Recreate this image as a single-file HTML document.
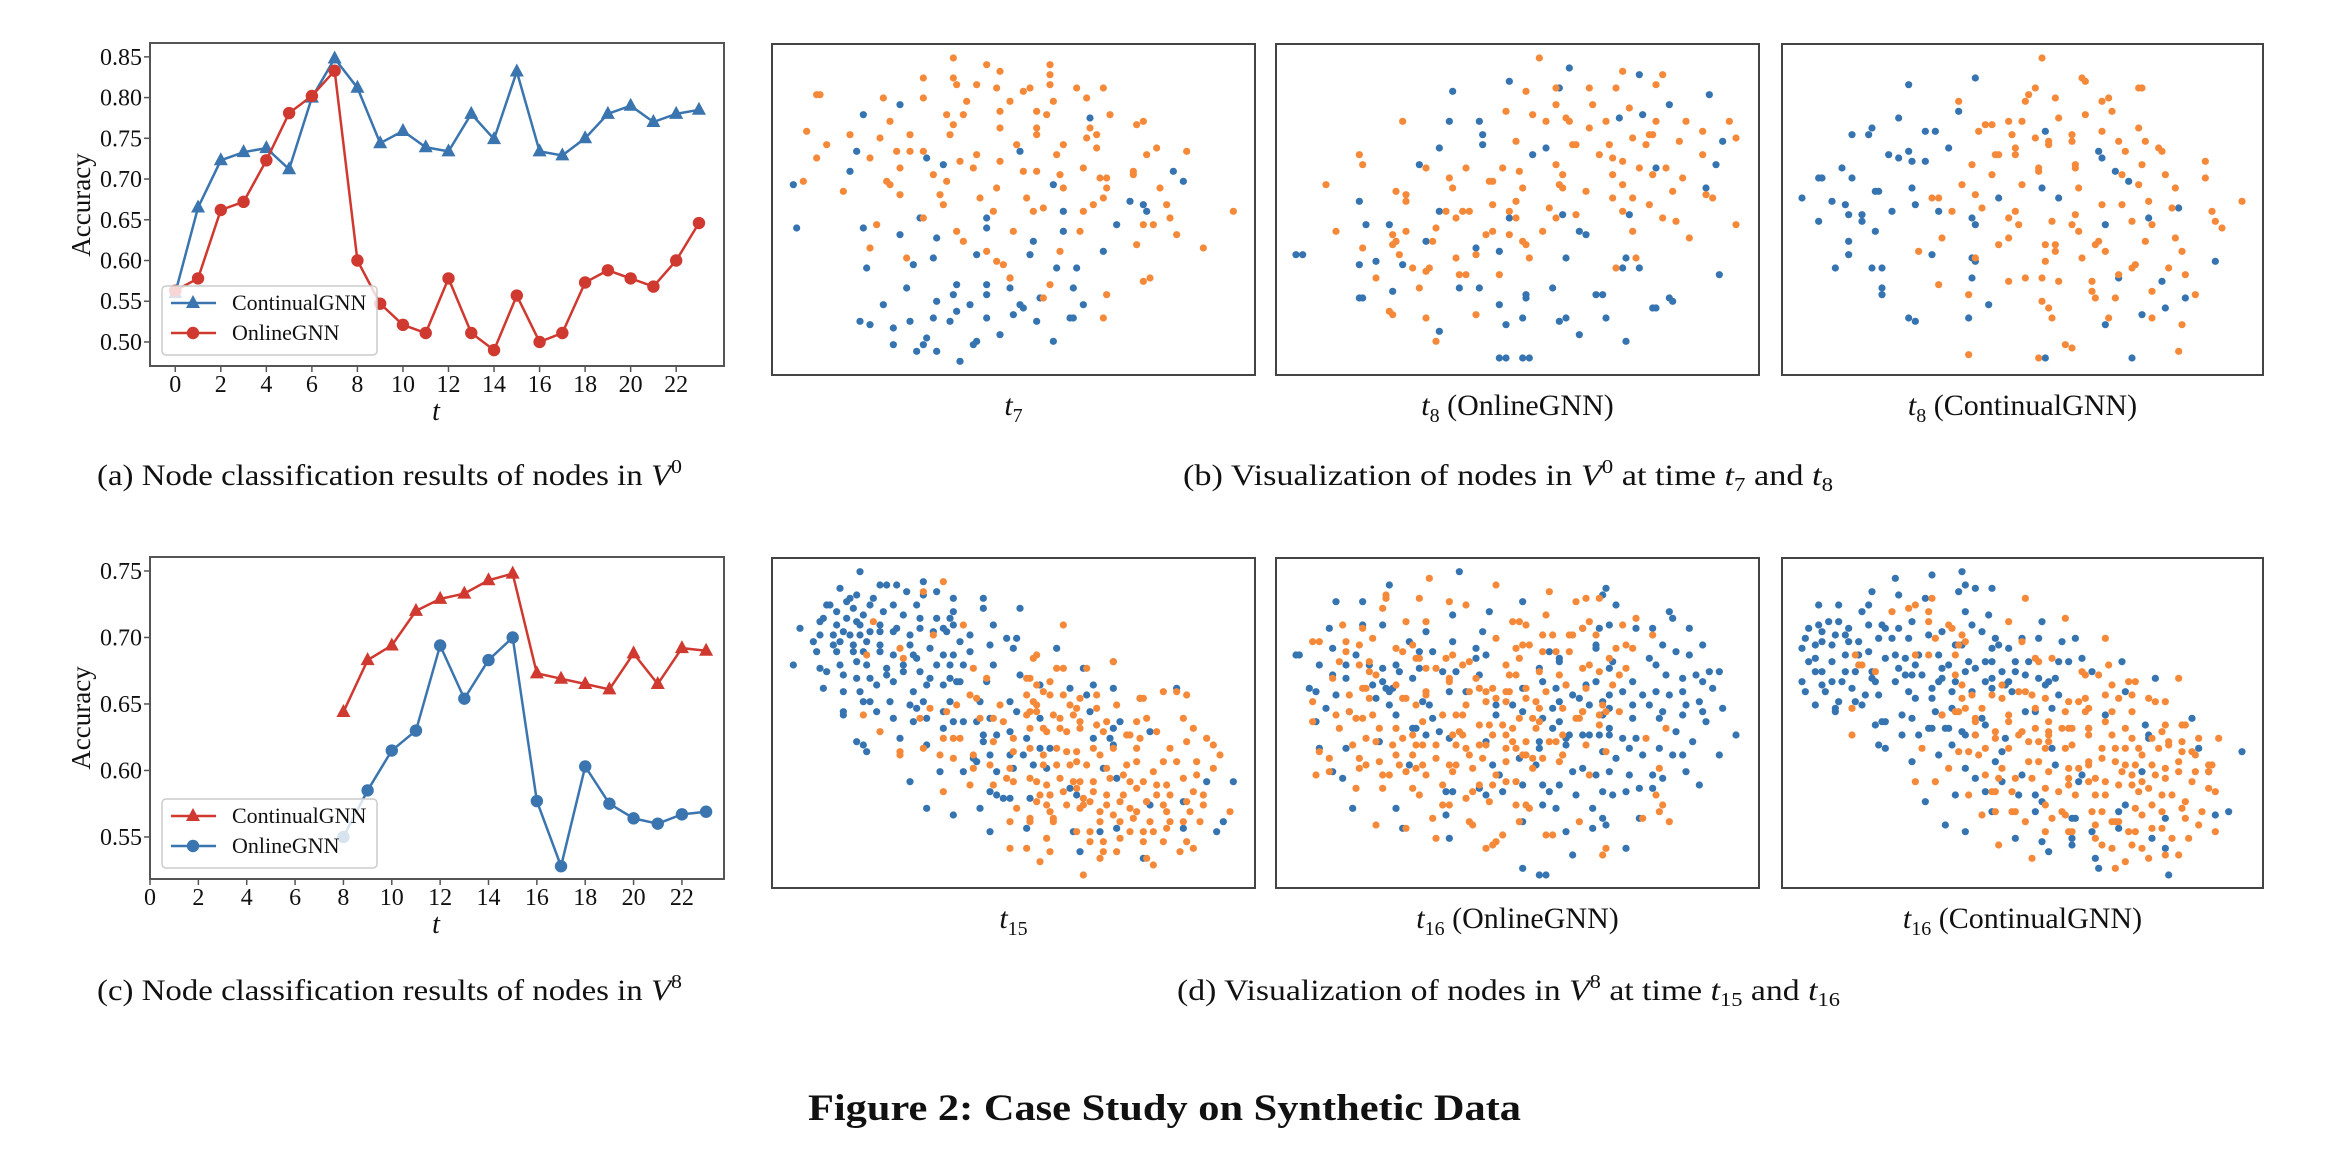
<!DOCTYPE html>
<html><head><meta charset="utf-8"><style>
html,body{margin:0;padding:0;background:#fff}
svg{display:block}
text{font-family:"Liberation Serif","DejaVu Serif",serif;fill:#111}
</style></head><body>
<svg id="fig" width="2334" height="1168" viewBox="0 0 2334 1168" xmlns="http://www.w3.org/2000/svg">
<g id="chartA"></g>
<g id="chartC"></g>
<g id="scatters"></g>
<text x="97" y="485" font-size="30" textLength="585" lengthAdjust="spacingAndGlyphs">(a)  Node classification results of nodes in <tspan font-style="italic">V</tspan><tspan font-size="20" dy="-12">0</tspan></text>
<text x="97" y="1000" font-size="30" textLength="585" lengthAdjust="spacingAndGlyphs">(c)  Node classification results of nodes in <tspan font-style="italic">V</tspan><tspan font-size="20" dy="-12">8</tspan></text>
<text x="1183" y="485" font-size="30" textLength="650" lengthAdjust="spacingAndGlyphs">(b)  Visualization of nodes in <tspan font-style="italic">V</tspan><tspan font-size="20" dy="-12">0</tspan><tspan dy="12"> at time </tspan><tspan font-style="italic">t</tspan><tspan font-size="20" dy="6">7</tspan><tspan dy="-6"> and </tspan><tspan font-style="italic">t</tspan><tspan font-size="20" dy="6">8</tspan></text>
<text x="1177" y="1000" font-size="30" textLength="663" lengthAdjust="spacingAndGlyphs">(d)  Visualization of nodes in <tspan font-style="italic">V</tspan><tspan font-size="20" dy="-12">8</tspan><tspan dy="12"> at time </tspan><tspan font-style="italic">t</tspan><tspan font-size="20" dy="6">15</tspan><tspan dy="-6"> and </tspan><tspan font-style="italic">t</tspan><tspan font-size="20" dy="6">16</tspan></text>
<text x="808" y="1120" font-size="37" font-weight="bold" textLength="713" lengthAdjust="spacingAndGlyphs">Figure 2: Case Study on Synthetic Data</text>
</svg>
<script>
const NS="http://www.w3.org/2000/svg";
// ---- chart (a) data ----
const tA=[0,1,2,3,4,5,6,7,8,9,10,11,12,13,14,15,16,17,18,19,20,21,22,23];
const contA=[0.56,0.665,0.723,0.733,0.738,0.712,0.80,0.848,0.812,0.744,0.759,0.739,0.734,0.78,0.749,0.832,0.734,0.729,0.75,0.78,0.79,0.77,0.78,0.785];
const onlA=[0.563,0.578,0.662,0.672,0.723,0.781,0.802,0.833,0.60,0.547,0.521,0.511,0.578,0.511,0.49,0.557,0.50,0.511,0.573,0.588,0.578,0.568,0.60,0.646];
const yTicksA=[0.50,0.55,0.60,0.65,0.70,0.75,0.80,0.85];
const xTicks=[0,2,4,6,8,10,12,14,16,18,20,22];
// ---- chart (c) data ----
const tC=[8,9,10,11,12,13,14,15,16,17,18,19,20,21,22,23];
const contC=[0.644,0.683,0.694,0.720,0.729,0.733,0.743,0.748,0.673,0.669,0.665,0.661,0.688,0.665,0.692,0.690];
const onlC=[0.55,0.585,0.615,0.630,0.694,0.654,0.683,0.700,0.577,0.528,0.603,0.575,0.564,0.560,0.567,0.569];
const yTicksC=[0.55,0.60,0.65,0.70,0.75];

const BLUE="#3b75af",RED="#d0392f",SB="#3574b0",SO="#f5893a";
function el(tag,attrs,parent){const e=document.createElementNS(NS,tag);for(const k in attrs)e.setAttribute(k,attrs[k]);if(parent)parent.appendChild(e);return e;}
function lin(d0,d1,r0,r1){return v=>r0+(v-d0)*(r1-r0)/(d1-d0);}
function fmt(v){return v.toFixed(2);}

function drawLine(g,xs,ys,X,Y,color,marker,name){
  const pts=xs.map((t,i)=>X(t)+","+Y(ys[i])).join(" ");
  const pl=el("polyline",{points:pts,fill:"none",stroke:color,"stroke-width":2.5},g);
  
  
  xs.forEach((t,i)=>{
    const cx=X(t),cy=Y(ys[i]);let m;
    if(marker==="tri"){m=el("polygon",{points:`${cx},${cy-8} ${cx-7},${cy+5} ${cx+7},${cy+5}`,fill:color},g);}
    else{m=el("circle",{cx:cx,cy:cy,r:6.2,fill:color},g);}
    
    
  });
}

function drawChart(gid,box,xd,yd,yTicks,series,legend,accY,tY){
  const g=document.getElementById(gid);
  const X=lin(xd[0],xd[1],box.l,box.r),Y=lin(yd[0],yd[1],box.b,box.t);
  const clip=el("clipPath",{id:gid+"clip"},g);el("rect",{x:box.l,y:box.t,width:box.r-box.l,height:box.b-box.t},clip);
  const plot=el("g",{"clip-path":`url(#${gid}clip)`},g);
  series.forEach(s=>drawLine(plot,s.x,s.y,X,Y,s.c,s.m,s.n));
  // legend
  const lg=el("g",{},g);
  
  
  el("rect",{x:box.l+12,y:legend.y,width:215,height:69,rx:4,fill:"#fff","fill-opacity":0.8,stroke:"#ccc","stroke-width":1.5},lg);
  series.forEach((s,i)=>{
    const ly=legend.y+17+i*30;
    const e=el("g",{},lg);
    
    
    el("line",{x1:box.l+21,x2:box.l+66,y1:ly,y2:ly,stroke:s.c,"stroke-width":2.5},e);
    if(s.m==="tri")el("polygon",{points:`${box.l+43},${ly-8} ${box.l+36},${ly+5} ${box.l+50},${ly+5}`,fill:s.c},e);
    else el("circle",{cx:box.l+43,cy:ly,r:6.2,fill:s.c},e);
    const tx=el("text",{x:box.l+82,y:ly+7,"font-size":22},e);tx.textContent=s.label;
  });
  // frame
  const fr=el("rect",{x:box.l,y:box.t,width:box.r-box.l,height:box.b-box.t,fill:"none",stroke:"#555","stroke-width":2},g);
  
  
  yTicks.forEach(v=>{
    const y=Y(v);
    el("line",{x1:box.l-6,x2:box.l,y1:y,y2:y,stroke:"#555","stroke-width":1.5},g);
    const t=el("text",{x:box.l-8,y:y+8,"font-size":24,"text-anchor":"end"},g);t.textContent=fmt(v);
    
    
  });
  xTicks.forEach(v=>{
    const x=X(v);
    el("line",{x1:x,x2:x,y1:box.b,y2:box.b+6,stroke:"#555","stroke-width":1.5},g);
    const t=el("text",{x:x,y:box.b+26,"font-size":24,"text-anchor":"middle"},g);t.textContent=v;
    
    
  });
  const yl=el("text",{x:0,y:0,"font-size":27,"text-anchor":"middle",transform:`translate(90,${accY}) rotate(-90)`},g);yl.textContent="Accuracy";
  
  
  const xl=el("text",{x:436,y:tY,"font-size":28,"font-style":"italic","text-anchor":"middle"},g);xl.textContent="t";
  
  
}
drawChart("chartA",{l:150,r:724,t:43,b:366},[-1.11,24.1],[0.4705,0.867],yTicksA,
 [{x:tA,y:contA,c:BLUE,m:"tri",n:"continualgnn",label:"ContinualGNN"},{x:tA,y:onlA,c:RED,m:"circ",n:"onlinegnn",label:"OnlineGNN"}],{y:286},205,420);
drawChart("chartC",{l:150,r:724,t:557,b:879},[0,23.74],[0.5184,0.7605],yTicksC,
 [{x:tC,y:contC,c:RED,m:"tri",n:"continualgnn",label:"ContinualGNN"},{x:tC,y:onlC,c:BLUE,m:"circ",n:"onlinegnn",label:"OnlineGNN"}],{y:799},718,933);

// ---- scatter data (embedding coordinates) ----
const p1o=[[55,6],[65,8],[69,10],[84,8],[84,11],[46,12],[55,12],[56,14],[62,14],[68,15],[76,16],[78,15],[84,14],[92,15],[100,15],[14,17],[15,17],[34,18],[46,18],[59,19],[72,19],[85,19],[95,18],[53,23],[58,23],[69,22],[80,22],[83,23],[102,23],[36,25],[55,26],[69,27],[80,27],[96,27],[110,26],[112,25],[11,28],[24,29],[33,30],[42,29],[54,29],[80,29],[98,29],[95,30],[17,32],[74,32],[88,32],[98,33],[116,33],[125,34],[14,36],[30,36],[38,34],[42,34],[46,34],[62,35],[86,35],[113,35],[39,39],[57,37],[69,37],[61,39],[49,41],[76,40],[80,40],[87,41],[94,39],[99,42],[101,42],[109,40],[109,41],[10,43],[35,43],[36,44],[53,43],[68,45],[22,46],[39,47],[88,45],[101,45],[117,45],[51,47],[52,50],[63,48],[77,48],[100,48],[97,50],[119,50],[46,54],[67,52],[79,52],[82,51],[94,52],[139,52],[32,56],[112,56],[115,56],[120,54],[56,58],[58,61],[73,58],[93,58],[30,63],[65,64],[87,64],[110,62],[122,59],[130,63],[41,66],[68,67],[70,68],[72,72],[112,73],[114,72],[84,74],[101,77],[82,78],[100,84]];
const p1b=[[39,20],[28,23],[96,24],[26,34],[47,36],[75,34],[52,38],[24,40],[7,44],[121,40],[124,43],[85,44],[108,49],[112,50],[113,52],[88,52],[45,54],[65,54],[8,57],[28,57],[65,57],[88,58],[39,59],[50,60],[104,56],[79,61],[100,64],[62,65],[78,65],[49,66],[43,68],[29,69],[86,69],[92,69],[72,72],[41,75],[56,74],[65,74],[72,75],[91,75],[34,80],[55,77],[65,77],[81,78],[75,80],[76,81],[94,80],[50,79],[60,80],[56,82],[73,83],[27,85],[30,86],[37,87],[42,85],[49,84],[54,85],[65,84],[80,85],[90,84],[91,84],[47,90],[46,92],[62,91],[61,92],[69,89],[85,91],[37,92],[44,94],[50,94],[57,97]];
const p2o=[[79,6],[104,10],[116,11],[114,14],[75,16],[84,15],[94,15],[102,15],[95,20],[69,22],[84,20],[77,23],[87,24],[88,25],[81,25],[106,21],[38,25],[94,27],[99,25],[114,25],[123,25],[136,25],[107,30],[113,29],[112,29],[128,28],[72,31],[89,32],[90,32],[100,32],[111,32],[121,31],[138,30],[25,35],[97,35],[101,36],[104,37],[128,35],[26,38],[45,39],[57,39],[68,39],[73,40],[84,38],[101,41],[109,39],[117,39],[113,41],[122,42],[86,41],[15,44],[52,42],[64,43],[65,43],[74,45],[85,44],[86,45],[104,44],[36,46],[39,47],[39,49],[53,45],[93,46],[119,46],[129,47],[131,48],[101,48],[107,48],[112,50],[65,50],[72,49],[82,51],[70,52],[56,52],[58,52],[51,52],[54,54],[72,54],[84,54],[90,53],[104,52],[116,54],[120,55],[18,58],[35,59],[39,58],[48,57],[65,58],[70,59],[80,58],[63,59],[107,58],[138,56],[124,60],[36,61],[35,62],[47,61],[74,61],[75,62],[26,63],[37,65],[54,66],[60,65],[76,66],[108,66],[102,69],[41,69],[45,70],[46,69],[30,72],[55,71],[57,71],[67,71],[43,75],[34,82],[35,83],[45,84],[60,83],[48,91]];
const p2b=[[88,9],[70,13],[109,11],[85,15],[53,16],[130,17],[118,20],[52,25],[61,25],[103,24],[110,23],[62,29],[62,32],[49,33],[81,33],[77,35],[134,31],[43,38],[114,39],[132,38],[129,45],[25,49],[49,52],[106,53],[86,53],[70,54],[27,56],[34,56],[91,58],[93,59],[45,61],[60,63],[67,64],[6,65],[8,65],[30,67],[25,68],[38,68],[87,66],[105,66],[104,69],[109,69],[133,71],[35,76],[55,75],[61,75],[83,75],[75,77],[75,78],[96,77],[98,77],[25,78],[26,78],[118,78],[119,79],[67,80],[69,86],[74,84],[85,85],[87,84],[99,84],[113,81],[114,81],[49,88],[91,89],[105,91],[67,96],[69,96],[74,96],[76,96]];
const p3o=[[78,6],[90,12],[91,13],[107,15],[108,15],[76,15],[74,17],[73,19],[82,18],[96,19],[98,18],[53,19],[83,24],[91,23],[99,22],[68,25],[72,25],[61,26],[63,26],[59,28],[69,29],[96,28],[107,27],[76,30],[80,31],[80,32],[87,29],[87,31],[101,31],[109,31],[103,34],[113,33],[114,34],[64,35],[65,35],[70,33],[70,35],[57,38],[77,39],[77,40],[88,38],[88,39],[108,38],[127,37],[102,41],[63,41],[115,41],[127,42],[54,44],[72,44],[89,45],[107,44],[118,45],[45,48],[47,48],[58,47],[51,52],[60,51],[70,52],[68,54],[71,56],[81,55],[88,53],[87,56],[89,58],[96,50],[102,50],[110,49],[117,51],[105,55],[111,56],[129,52],[130,55],[132,57],[138,49],[48,60],[68,60],[65,62],[79,62],[82,62],[82,64],[94,62],[95,61],[97,64],[109,61],[118,60],[120,64],[41,64],[58,66],[79,67],[90,66],[106,68],[105,69],[116,69],[121,71],[73,72],[68,73],[78,72],[83,73],[93,73],[101,71],[47,74],[56,77],[93,76],[94,78],[100,78],[111,76],[124,77],[78,79],[80,81],[81,84],[98,84],[111,84],[120,86],[85,92],[87,93],[56,95],[77,96],[119,94]];
const p3b=[[58,12],[38,14],[53,22],[35,24],[27,27],[21,29],[26,29],[43,28],[46,28],[79,28],[50,33],[32,35],[38,34],[35,36],[39,37],[43,37],[95,34],[96,36],[18,39],[11,42],[12,42],[21,42],[100,40],[104,43],[39,45],[28,46],[29,46],[78,45],[6,48],[15,49],[19,50],[65,48],[83,48],[40,50],[33,52],[47,52],[20,53],[24,53],[24,55],[11,55],[57,54],[58,56],[110,54],[119,51],[97,56],[28,58],[20,61],[20,65],[45,65],[57,66],[58,67],[16,69],[27,69],[30,69],[130,67],[57,72],[101,72],[114,73],[30,75],[30,77],[62,80],[121,78],[115,81],[38,84],[40,85],[56,84],[108,83],[97,86],[79,96],[105,96]];
const p4b=[[27,5],[46,8],[21,10],[33,9],[35,9],[38,9],[41,11],[46,12],[50,11],[55,13],[64,13],[64,16],[75,16],[24,13],[26,12],[31,13],[17,15],[18,15],[23,14],[25,16],[30,15],[34,17],[37,15],[44,15],[20,17],[23,19],[28,18],[40,18],[45,19],[50,19],[54,19],[55,17],[15,20],[16,19],[20,21],[26,20],[27,21],[33,21],[38,22],[45,22],[52,22],[55,21],[67,21],[9,22],[15,24],[19,24],[22,23],[24,24],[27,24],[30,23],[33,23],[37,23],[42,24],[49,23],[53,23],[60,24],[71,25],[74,25],[13,26],[19,27],[21,26],[25,27],[29,26],[33,27],[42,27],[48,28],[57,26],[66,27],[14,29],[20,29],[25,29],[28,29],[33,29],[37,30],[43,30],[52,30],[55,30],[60,29],[73,28],[86,28],[7,33],[15,34],[17,35],[21,33],[26,32],[29,33],[35,34],[40,33],[44,31],[50,33],[54,33],[58,33],[67,33],[22,36],[26,37],[30,37],[35,36],[40,35],[45,35],[48,37],[54,37],[57,38],[65,38],[75,36],[94,34],[103,32],[16,40],[22,41],[27,41],[32,39],[37,38],[43,41],[47,39],[52,39],[56,38],[28,44],[30,44],[36,44],[42,45],[46,44],[54,44],[63,44],[72,44],[81,39],[90,40],[95,42],[97,39],[103,40],[111,43],[122,40],[22,47],[32,47],[44,46],[52,47],[22,48],[37,49],[43,50],[47,49],[55,50],[58,50],[62,50],[66,49],[74,47],[81,49],[96,47],[105,50],[52,52],[64,54],[68,54],[72,53],[77,55],[97,55],[102,55],[103,52],[114,53],[26,56],[28,57],[39,55],[47,57],[64,56],[81,58],[84,58],[103,57],[29,59],[61,61],[66,60],[72,60],[76,60],[62,62],[79,63],[68,65],[83,64],[100,64],[51,65],[58,65],[73,64],[42,68],[104,67],[131,68],[139,68],[66,71],[90,70],[92,72],[68,72],[70,73],[72,73],[78,73],[84,72],[113,74],[114,75],[124,74],[47,76],[63,76],[55,78],[136,80],[77,82],[91,83],[99,83],[104,82],[124,82],[134,83],[66,83],[93,89],[112,91]];
const p4o=[[52,8],[46,11],[31,20],[58,21],[88,21],[49,24],[39,28],[29,30],[40,31],[80,30],[79,31],[61,34],[88,34],[86,34],[95,34],[103,32],[65,37],[77,37],[78,37],[80,39],[84,38],[60,42],[62,43],[88,42],[93,43],[98,42],[82,41],[84,42],[77,42],[69,45],[79,44],[80,45],[56,45],[28,48],[48,46],[53,47],[78,47],[80,47],[90,45],[92,46],[98,46],[104,45],[112,43],[118,41],[122,41],[125,42],[111,43],[45,49],[63,49],[67,49],[70,50],[77,48],[85,48],[87,49],[91,48],[93,50],[101,50],[110,50],[113,49],[124,49],[33,53],[52,55],[55,55],[57,55],[73,55],[78,52],[82,52],[83,53],[87,52],[89,53],[93,52],[98,51],[100,53],[108,54],[111,55],[116,53],[127,52],[39,59],[46,58],[51,60],[55,61],[61,60],[67,56],[73,59],[78,58],[82,60],[86,58],[89,59],[92,59],[97,58],[99,60],[103,58],[107,54],[110,58],[120,58],[125,56],[131,55],[133,57],[39,60],[61,64],[66,63],[72,64],[82,63],[86,63],[90,63],[92,62],[95,63],[101,64],[107,63],[110,62],[115,65],[118,62],[122,62],[128,62],[135,60],[133,64],[52,71],[60,69],[67,69],[71,67],[73,68],[78,67],[80,68],[83,69],[87,67],[91,68],[93,68],[97,68],[102,67],[106,66],[108,68],[112,68],[116,69],[119,69],[124,67],[128,66],[81,72],[84,72],[88,71],[92,70],[94,73],[97,71],[101,72],[106,72],[110,70],[116,72],[120,72],[127,71],[130,72],[80,74],[83,75],[89,75],[94,75],[96,74],[101,75],[105,74],[108,76],[113,74],[118,75],[125,74],[130,75],[74,76],[78,79],[84,77],[85,79],[93,76],[99,77],[103,78],[110,77],[119,77],[126,77],[138,77],[72,80],[78,80],[85,80],[99,80],[105,80],[109,79],[114,80],[120,80],[124,80],[129,80],[92,83],[96,83],[108,83],[112,83],[115,83],[119,82],[83,85],[96,86],[100,86],[105,85],[112,86],[118,86],[125,86],[72,88],[77,88],[84,89],[100,89],[104,89],[123,89],[127,88],[81,92],[99,91],[113,91],[115,93],[94,96]];
const p5b=[[55,5],[34,9],[18,14],[26,14],[64,17],[74,14],[53,18],[99,10],[98,12],[102,15],[118,17],[119,19],[16,22],[26,21],[32,21],[45,23],[53,26],[62,23],[92,22],[97,22],[100,21],[108,22],[113,22],[124,22],[6,30],[7,30],[17,28],[24,30],[40,26],[43,29],[47,29],[60,28],[63,30],[60,31],[82,29],[85,31],[85,32],[96,27],[96,28],[101,32],[112,31],[116,27],[120,29],[124,30],[128,27],[13,33],[21,33],[28,33],[32,34],[36,33],[37,35],[43,34],[50,35],[54,35],[61,36],[79,34],[80,38],[87,39],[93,39],[96,38],[100,34],[107,38],[114,33],[117,36],[122,37],[126,36],[130,35],[133,35],[17,36],[21,37],[29,39],[32,38],[33,40],[35,40],[41,37],[10,40],[12,41],[18,42],[30,43],[34,41],[44,44],[46,45],[52,41],[57,41],[74,40],[84,40],[89,42],[91,43],[100,42],[104,41],[110,42],[114,41],[118,42],[122,41],[128,38],[131,40],[15,46],[22,47],[34,45],[36,48],[66,45],[71,45],[74,47],[83,46],[85,44],[94,45],[98,44],[100,46],[107,45],[112,45],[116,47],[123,45],[127,44],[134,46],[12,50],[42,52],[47,49],[49,53],[66,48],[80,49],[83,52],[85,50],[88,54],[98,48],[100,52],[107,49],[115,49],[122,48],[128,47],[129,50],[138,54],[13,58],[21,58],[31,56],[41,52],[45,54],[52,55],[63,56],[79,56],[79,58],[87,55],[92,54],[94,54],[97,54],[100,54],[104,55],[108,55],[120,53],[125,56],[40,63],[65,63],[73,61],[78,63],[87,57],[98,59],[102,61],[106,58],[110,60],[115,58],[119,60],[122,60],[133,60],[17,65],[20,67],[67,66],[74,69],[80,69],[85,69],[89,65],[92,64],[96,66],[100,65],[106,66],[113,66],[116,67],[123,65],[127,69],[51,71],[53,71],[61,70],[63,72],[68,71],[82,71],[90,72],[98,71],[101,72],[105,71],[109,70],[113,70],[23,76],[36,76],[51,78],[74,80],[80,75],[84,76],[95,76],[98,79],[99,81],[109,79],[38,82],[52,85],[87,83],[95,82],[89,90],[105,88],[74,94],[79,96],[81,96]];
const p5o=[[46,7],[66,9],[82,11],[33,12],[33,13],[43,13],[52,14],[57,15],[90,14],[93,13],[97,13],[32,16],[81,18],[108,19],[20,21],[26,22],[39,20],[45,20],[71,20],[73,20],[75,21],[92,22],[94,20],[104,21],[11,26],[21,26],[25,27],[29,25],[41,27],[80,24],[83,24],[88,24],[89,24],[96,24],[113,24],[21,29],[36,28],[38,29],[53,30],[66,25],[72,28],[74,27],[76,27],[80,29],[84,29],[88,29],[102,28],[105,27],[107,28],[19,32],[25,33],[28,32],[42,31],[43,31],[51,31],[56,33],[58,32],[69,33],[73,31],[94,33],[100,31],[17,37],[28,35],[30,36],[45,34],[48,34],[52,37],[60,37],[70,36],[72,36],[79,35],[85,36],[92,34],[97,35],[103,36],[105,34],[13,26],[26,40],[27,40],[36,39],[39,43],[45,41],[52,38],[58,41],[61,40],[63,41],[65,40],[69,41],[70,41],[75,40],[81,41],[87,39],[93,40],[101,39],[11,44],[22,42],[28,43],[38,43],[42,45],[45,42],[57,45],[63,44],[66,43],[69,44],[75,43],[78,44],[79,46],[86,46],[92,47],[98,45],[99,47],[103,47],[18,48],[22,47],[24,49],[26,49],[29,48],[44,50],[50,48],[54,48],[56,48],[61,51],[64,51],[68,51],[71,52],[73,49],[77,49],[79,50],[90,49],[91,49],[92,47],[97,48],[11,50],[19,52],[27,55],[31,52],[36,52],[38,55],[41,54],[53,54],[55,53],[56,54],[65,54],[69,54],[71,56],[75,56],[78,52],[86,54],[97,51],[111,55],[117,52],[13,59],[23,57],[30,56],[35,57],[36,60],[42,57],[44,57],[48,57],[54,57],[57,58],[61,57],[63,57],[69,58],[72,58],[74,60],[82,56],[84,56],[86,60],[93,57],[99,59],[16,61],[25,61],[27,63],[31,62],[37,63],[41,60],[44,63],[48,61],[52,63],[54,63],[58,60],[62,61],[69,62],[75,60],[77,61],[80,61],[85,62],[86,60],[12,66],[16,65],[25,64],[32,66],[34,66],[39,65],[42,64],[45,66],[53,65],[59,64],[66,66],[72,68],[77,64],[94,66],[115,64],[24,70],[32,70],[41,70],[43,72],[50,69],[61,69],[65,69],[69,68],[59,71],[50,75],[52,75],[57,73],[64,74],[72,75],[75,75],[76,76],[114,72],[116,75],[115,77],[30,81],[39,82],[47,79],[58,80],[59,81],[73,80],[91,80],[110,79],[118,80],[48,85],[68,84],[81,84],[83,84],[66,86],[65,87],[63,88],[99,88],[98,90]];
const p6b=[[54,5],[45,6],[34,7],[55,9],[58,10],[63,10],[27,11],[35,12],[43,13],[53,11],[11,15],[17,15],[26,15],[24,17],[55,17],[62,18],[14,20],[8,22],[11,21],[17,20],[20,22],[26,21],[30,21],[31,22],[35,22],[39,20],[57,21],[78,20],[7,25],[12,23],[16,24],[19,24],[23,26],[29,25],[33,25],[38,25],[44,24],[48,23],[60,23],[64,25],[72,25],[77,25],[84,26],[88,25],[10,27],[12,26],[15,27],[20,26],[26,29],[34,30],[41,30],[47,30],[52,27],[54,27],[63,28],[65,27],[68,28],[6,28],[8,32],[10,31],[15,32],[19,30],[23,30],[31,31],[37,31],[40,33],[48,34],[50,33],[56,32],[61,32],[63,32],[70,32],[74,32],[83,32],[86,32],[90,31],[102,32],[10,35],[12,35],[19,35],[22,35],[27,35],[35,34],[37,36],[39,36],[42,36],[48,37],[55,35],[58,34],[66,35],[70,35],[73,36],[93,35],[6,38],[12,39],[15,38],[18,38],[27,37],[28,38],[34,38],[47,38],[52,38],[61,38],[63,37],[68,38],[77,37],[80,38],[82,37],[112,37],[7,41],[13,41],[21,40],[25,42],[29,42],[38,41],[40,43],[45,40],[51,41],[57,41],[63,40],[67,39],[69,41],[79,39],[83,42],[103,41],[17,44],[22,44],[24,45],[45,43],[10,45],[16,46],[16,47],[36,48],[46,47],[48,48],[51,46],[60,49],[61,51],[73,47],[76,47],[81,46],[97,48],[28,51],[30,50],[31,50],[39,49],[44,52],[49,52],[50,52],[54,53],[55,54],[58,54],[67,55],[92,52],[109,51],[123,49],[36,54],[41,54],[45,52],[110,54],[110,55],[29,57],[31,58],[39,62],[47,60],[51,57],[55,64],[58,67],[64,62],[66,59],[81,58],[125,58],[138,59],[82,63],[72,66],[66,68],[90,66],[89,68],[108,65],[128,65],[52,72],[61,71],[71,72],[76,72],[78,74],[43,74],[63,77],[76,77],[87,79],[88,79],[101,77],[103,75],[115,79],[130,78],[134,77],[49,81],[55,83],[70,85],[78,86],[80,89],[87,85],[87,87],[93,83],[101,82],[111,85],[115,88],[94,91],[95,94],[116,96]];
const p6o=[[45,13],[40,15],[73,13],[33,17],[38,16],[44,17],[44,20],[85,19],[68,20],[50,21],[51,22],[46,25],[54,24],[55,26],[53,27],[97,25],[72,26],[22,30],[40,30],[44,30],[52,30],[76,31],[77,32],[81,31],[98,33],[23,33],[24,33],[28,35],[52,36],[90,35],[91,36],[95,36],[54,39],[66,39],[71,41],[73,41],[99,39],[104,38],[106,38],[119,37],[21,46],[54,43],[57,42],[63,42],[66,43],[75,42],[79,43],[86,44],[89,44],[91,43],[97,42],[105,42],[101,43],[110,43],[112,44],[115,44],[52,47],[55,46],[60,46],[68,48],[68,50],[76,46],[80,50],[85,47],[91,47],[92,46],[99,47],[105,47],[48,48],[53,47],[58,50],[58,49],[71,54],[76,52],[80,53],[84,52],[86,52],[92,52],[97,50],[103,52],[115,51],[120,51],[121,51],[21,54],[58,54],[64,53],[64,55],[72,53],[74,56],[77,56],[80,54],[80,56],[87,52],[92,54],[99,54],[105,55],[111,55],[114,53],[116,56],[120,56],[125,55],[131,55],[42,58],[53,59],[56,59],[59,60],[61,58],[68,58],[79,58],[85,58],[87,57],[96,58],[100,58],[103,58],[107,58],[108,60],[113,58],[116,57],[120,59],[123,59],[124,60],[66,64],[74,62],[77,62],[86,64],[89,64],[92,62],[96,61],[100,62],[103,63],[106,63],[111,63],[115,64],[119,62],[128,63],[129,63],[50,64],[61,66],[65,67],[70,67],[75,67],[80,65],[86,67],[92,63],[94,67],[97,68],[102,65],[105,66],[108,68],[112,66],[115,67],[119,65],[124,65],[128,65],[40,68],[46,68],[64,71],[69,71],[79,70],[83,71],[86,69],[88,72],[92,68],[94,72],[97,72],[101,69],[105,69],[107,71],[110,70],[114,72],[117,72],[121,74],[123,68],[128,70],[130,71],[56,72],[63,71],[64,77],[69,77],[70,77],[73,80],[79,75],[81,79],[84,77],[85,78],[93,77],[96,77],[99,80],[101,80],[106,76],[108,78],[111,75],[114,77],[120,76],[126,77],[60,78],[79,83],[86,83],[94,81],[100,80],[104,83],[106,83],[111,82],[114,82],[121,79],[125,81],[130,83],[65,87],[75,91],[87,83],[94,85],[96,87],[99,88],[105,87],[108,88],[117,85],[122,85],[100,94],[103,92],[110,91],[115,90],[119,90]];

const panels=[
 {n:"scatter-t7",ox:770,oy:38,box:[772,44,1255,375],sets:[p1o,p1b],order:[0,1],label:["t","7",""]},
 {n:"scatter-t8-onlinegnn",ox:1276,oy:38,box:[1276,44,1759,375],sets:[p2o,p2b],label:["t","8"," (OnlineGNN)"]},
 {n:"scatter-t8-continualgnn",ox:1782,oy:38,box:[1782,44,2263,375],sets:[p3o,p3b],label:["t","8"," (ContinualGNN)"]},
 {n:"scatter-t15",ox:770,oy:555,box:[772,558,1255,888],sets:[p4o,p4b],label:["t","15",""]},
 {n:"scatter-t16-onlinegnn",ox:1276,oy:555,box:[1276,558,1759,888],sets:[p5o,p5b],label:["t","16"," (OnlineGNN)"]},
 {n:"scatter-t16-continualgnn",ox:1782,oy:555,box:[1782,558,2263,888],sets:[p6o,p6b],label:["t","16"," (ContinualGNN)"]}
];
const SG=document.getElementById("scatters");
panels.forEach(p=>{
  const g=el("g",{},SG);
  
  
  const X=lin(0,150,p.ox,p.ox+500),Y=lin(0,103.5,p.oy,p.oy+345);
  const cols=[SO,SB];
  [1,0].forEach(k=>{
    p.sets[k].forEach(pt=>{
      const c=el("circle",{cx:X(pt[0]),cy:Y(pt[1]),r:3.6,fill:cols[k]},g);
      
      
    });
  });
  const b=p.box;
  el("rect",{x:b[0],y:b[1],width:b[2]-b[0],height:b[3]-b[1],fill:"none",stroke:"#444","stroke-width":2},g);
  const cx=(b[0]+b[2])/2, ly=b[3]+40;
  const t=el("text",{x:cx,y:ly,"font-size":30,"text-anchor":"middle"},g);
  
  
  const a=el("tspan",{"font-style":"italic"},t);a.textContent=p.label[0];
  const s=el("tspan",{"font-size":20,dy:7},t);s.textContent=p.label[1];
  const r=el("tspan",{dy:-7},t);r.textContent=p.label[2];
});
</script>
</body></html>
